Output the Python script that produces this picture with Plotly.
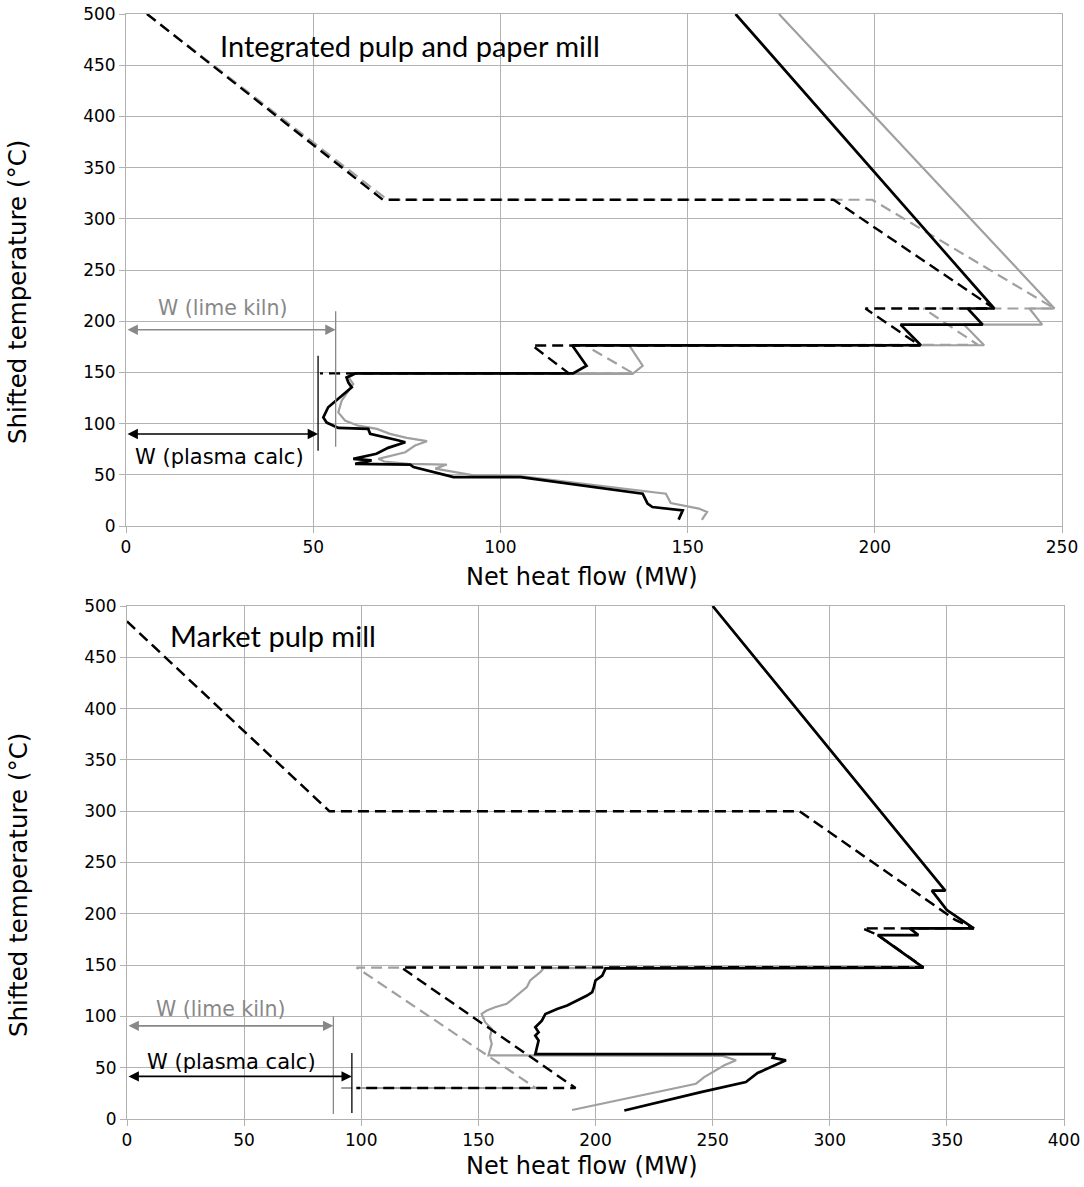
import plotly.graph_objects as go

# ---------------- Data: Integrated pulp and paper mill (top) ----------------
top_plasma_solid_Q = [162.8, 231.9, 224.8, 228.8, 206.9, 212.3, 119.2, 123.0, 119.4, 61.2, 58.9, 59.4, 60.3,
                      54.0, 52.7, 53.6, 56.7, 64.7, 65.2, 67.4, 72.3, 74.6, 70.0, 66.9, 60.7, 65.6, 61.2,
                      75.9, 76.8, 87.5, 105.4, 138.0, 139.3, 140.6, 148.7, 147.6]
top_plasma_solid_T = [500, 212.4, 212.4, 196.7, 196.7, 176.5, 176.3, 156.5, 149, 149, 145, 140, 135.4,
                      116, 106, 101, 95.8, 94.8, 90, 88.3, 84, 81.8, 76.3, 70.5, 65.6, 64, 60.7,
                      60, 57.5, 47.7, 47.7, 31.5, 21.8, 18.5, 15.3, 6.2]

top_kiln_solid_Q = [174.4, 248.0, 241.3, 244.7, 223.8, 229.2, 134.4, 138.0, 135.3, 61.2, 59.5, 60.7, 57.6,
                    56.7, 58.5, 62.0, 67.0, 70.5, 75.0, 80.4, 77.2, 74.6, 67.4, 69.0, 75.4, 85.7, 82.6,
                    92.9, 105.8, 144.2, 145.5, 153.0, 155.2, 153.8]
top_kiln_solid_T = [500, 212.4, 212.4, 196.7, 196.7, 176.5, 176.3, 156.5, 148.6, 148.6, 145, 138.6, 122.4,
                    111, 103, 98, 94.8, 90, 86, 82.8, 78.6, 72, 65.6, 63, 60.7, 60, 56,
                    49.4, 48.4, 31.5, 22.4, 17, 13.7, 6]

top_plasma_dash_Q = [5.6, 68.6, 189.0, 231.9, 197.5, 212.0, 108.5, 118.3, 51.8]
top_plasma_dash_T = [500, 318.6, 318.6, 212.4, 212.4, 176.3, 176.3, 149, 149]

top_kiln_dash_Q = [5.6, 69.8, 199.3, 248.0, 213.0, 227.5, 122.7, 135.5, 56.0]
top_kiln_dash_T = [500, 318.6, 318.6, 212.4, 212.4, 177, 176.3, 149, 149]

# ---------------- Data: Market pulp mill (bottom) ----------------
bot_plasma_solid_Q = [250.0, 349.3, 343.6, 350.0, 361.5, 334.2, 337.8, 320.5, 340.0, 204.3, 202.9, 200.0,
                      199.3, 198.6, 196.4, 192.1, 187.9, 183.6, 180.7, 178.6, 177.1, 175.7, 174.3, 175.7,
                      174.3, 175.7, 175.0, 174.3, 276.3, 275.6, 281.3, 276.3, 269.2, 264.2, 245.0, 212.3]
bot_plasma_solid_T = [500, 222.6, 222.6, 203.7, 185.8, 185.8, 179.3, 179.3, 147.5, 146.8, 139.8, 135,
                      128.5, 123.6, 120.3, 115.4, 110.6, 107.3, 104.1, 102.4, 95.9, 92.7, 89.4, 84.5,
                      81.3, 76.4, 70, 63.2, 63.2, 59.8, 57.2, 52.3, 44.8, 36, 26.2, 8.3]

bot_kiln_solid_Q = [250.0, 349.3, 343.6, 350.0, 361.5, 334.2, 337.8, 320.5, 340.0, 177.9, 176.4, 173.6,
                    172.1, 170.7, 166.4, 162.1, 157.1, 153.6, 151.4, 152.9, 155.7, 155.0, 155.7, 154.3,
                    254.3, 260.0, 255.0, 246.4, 242.9, 202.3, 190.0]
bot_kiln_solid_T = [500, 222.6, 222.6, 203.7, 185.8, 185.8, 179.3, 179.3, 147.5, 147.0, 143.1, 138.2,
                    135, 128.5, 120.3, 112.2, 108.9, 105.7, 102.4, 94.3, 87.8, 79.7, 73.2, 62.0,
                    61.5, 57.2, 52.3, 40.9, 34.4, 14.8, 8.8]

bot_plasma_dash_Q = [0.0, 86.4, 287.1, 353.6, 361.5, 314.0, 320.5, 340.0, 117.1, 191.5, 97.9]
bot_plasma_dash_T = [485, 300, 300, 194, 185.8, 185.8, 179.3, 148, 147.6, 30.2, 30.2]

bot_kiln_dash_Q = [0.0, 86.4, 287.1, 353.6, 361.5, 314.0, 320.5, 340.0, 98.0, 174.5, 90.7]
bot_kiln_dash_T = [485, 300, 300, 194, 185.8, 185.8, 179.3, 148, 147.6, 30.2, 30.2]

# Annotation values (MW, degC)
top_w_kiln = dict(q=56.0, t_arrow=191.6, t_lo=77.5, t_hi=209.8, tx=25.9, ty=213)
top_w_plasma = dict(q=51.3, t_arrow=89.9, t_lo=73.5, t_hi=166.3, tx=25.0, ty=67.6)
bot_w_kiln = dict(q=88.1, t_arrow=90.8, t_lo=4.9, t_hi=100, tx=40.0, ty=107.5)
bot_w_plasma = dict(q=96.0, t_arrow=41.5, t_lo=5.9, t_hi=64.4, tx=44.5, ty=55.5)

x_ticks_top = [0, 50, 100, 150, 200, 250]
x_ticks_bot = [0, 50, 100, 150, 200, 250, 300, 350, 400]
y_ticks = [0, 50, 100, 150, 200, 250, 300, 350, 400, 450, 500]

# ---------------- Styling ----------------
W, H = 1084, 1187
BLACK = "#000000"
GREY = "#A0A0A0"
GRID = "#B2B2B2"
TXT_GREY = "#888888"
FONT = "DejaVu Sans"
DASH = "11px,6px"


def px_x(px):
    return px / W


def px_y(py):
    return 1 - py / H


fig = go.Figure()


def add_series(Q, T, color, width, dash, xa, ya):
    fig.add_trace(go.Scatter(x=Q, y=T, mode="lines", xaxis=xa, yaxis=ya,
                             line=dict(color=color, width=width, dash=dash),
                             showlegend=False, hoverinfo="skip"))


# top
add_series(top_kiln_solid_Q, top_kiln_solid_T, GREY, 2.2, "solid", "x", "y")
add_series(top_kiln_dash_Q, top_kiln_dash_T, GREY, 2.2, DASH, "x", "y")
add_series(top_plasma_solid_Q, top_plasma_solid_T, BLACK, 2.7, "solid", "x", "y")
add_series(top_plasma_dash_Q, top_plasma_dash_T, BLACK, 2.4, DASH, "x", "y")
# bottom
add_series(bot_kiln_solid_Q, bot_kiln_solid_T, GREY, 2.2, "solid", "x2", "y2")
add_series(bot_kiln_dash_Q, bot_kiln_dash_T, GREY, 2.2, DASH, "x2", "y2")
add_series(bot_plasma_solid_Q, bot_plasma_solid_T, BLACK, 2.7, "solid", "x2", "y2")
add_series(bot_plasma_dash_Q, bot_plasma_dash_T, BLACK, 2.4, DASH, "x2", "y2")

# plot areas in reference pixels
top_px = dict(x0=126, x1=1062, y0=14, y1=526)
bot_px = dict(x0=127, x1=1064, y0=606, y1=1119)


def xdom(p):
    return [px_x(p["x0"]), px_x(p["x1"])]


def ydom(p):
    return [px_y(p["y1"]), px_y(p["y0"])]


axis_common = dict(showgrid=True, gridcolor=GRID, gridwidth=1, zeroline=False,
                   showline=True, linecolor=GRID, linewidth=1, mirror=True,
                   ticks="outside", ticklen=6, tickcolor=GRID, automargin=False,
                   tickfont=dict(family=FONT, size=17, color="#000000"))

fig.update_layout(
    width=W, height=H,
    margin=dict(l=0, r=0, t=0, b=0, autoexpand=False),
    paper_bgcolor="white", plot_bgcolor="white",
    xaxis=dict(domain=xdom(top_px), range=[0, 250], tickvals=x_ticks_top, anchor="y", **axis_common),
    yaxis=dict(domain=ydom(top_px), range=[0, 500], tickvals=y_ticks, anchor="x", **axis_common),
    xaxis2=dict(domain=xdom(bot_px), range=[0, 400], tickvals=x_ticks_bot, anchor="y2", **axis_common),
    yaxis2=dict(domain=ydom(bot_px), range=[0, 500], tickvals=y_ticks, anchor="x2", **axis_common),
)

annotations = []
shapes = []


def w_marks(w, color, label, xr, yr, size=21):
    shapes.append(dict(type="line", xref=xr, yref=yr, x0=w["q"], x1=w["q"], y0=w["t_lo"], y1=w["t_hi"],
                       line=dict(color=color, width=1.3)))
    annotations.append(dict(xref=xr, yref=yr, axref=xr, ayref=yr, x=w["q"], y=w["t_arrow"],
                            ax=0, ay=w["t_arrow"], text="", showarrow=True,
                            arrowhead=2, startarrowhead=2, arrowside="end+start",
                            arrowsize=1.3, startarrowsize=1.3, arrowwidth=1.6, arrowcolor=color,
                            standoff=0, startstandoff=0))
    annotations.append(dict(xref=xr, yref=yr, x=w["tx"], y=w["ty"], text=label, showarrow=False,
                            xanchor="center", yanchor="middle",
                            font=dict(family=FONT, size=size, color=color)))


w_marks(top_w_kiln, TXT_GREY, "W (lime kiln)", "x", "y", 20.5)
w_marks(top_w_plasma, BLACK, "W (plasma calc)", "x", "y", 21)
w_marks(bot_w_kiln, TXT_GREY, "W (lime kiln)", "x2", "y2", 20.5)
w_marks(bot_w_plasma, BLACK, "W (plasma calc)", "x2", "y2", 21)

annotations.append(dict(xref="x", yref="y", x=24.6, y=469.7, text="Integrated pulp and paper mill",
                        showarrow=False, xanchor="left", yanchor="middle",
                        font=dict(family="Lato", size=29, color="#000000")))
annotations.append(dict(xref="x2", yref="y2", x=17.5, y=470.8, text="Market pulp mill",
                        showarrow=False, xanchor="left", yanchor="middle",
                        font=dict(family="Lato", size=29, color="#000000")))

title_font = dict(family=FONT, size=24, color="#000000")
ytitle_font = dict(family=FONT, size=24.5, color="#000000")
annotations.append(dict(xref="paper", yref="paper", x=px_x(582), y=px_y(577), text="Net heat flow (MW)",
                        showarrow=False, xanchor="center", yanchor="middle", font=title_font))
annotations.append(dict(xref="paper", yref="paper", x=px_x(582), y=px_y(1166), text="Net heat flow (MW)",
                        showarrow=False, xanchor="center", yanchor="middle", font=title_font))
annotations.append(dict(xref="paper", yref="paper", x=px_x(18), y=px_y(292), text="Shifted temperature (°C)",
                        showarrow=False, xanchor="center", yanchor="middle", textangle=-90, font=ytitle_font))
annotations.append(dict(xref="paper", yref="paper", x=px_x(18), y=px_y(885), text="Shifted temperature (°C)",
                        showarrow=False, xanchor="center", yanchor="middle", textangle=-90, font=ytitle_font))

fig.update_layout(annotations=annotations, shapes=shapes)

# remove the default 8px page margin so the figure sits at the window origin
fig.write_html("out.html",
               config={"displayModeBar": False},
               post_script="document.body.style.margin='0px';document.body.style.overflow='hidden';")
